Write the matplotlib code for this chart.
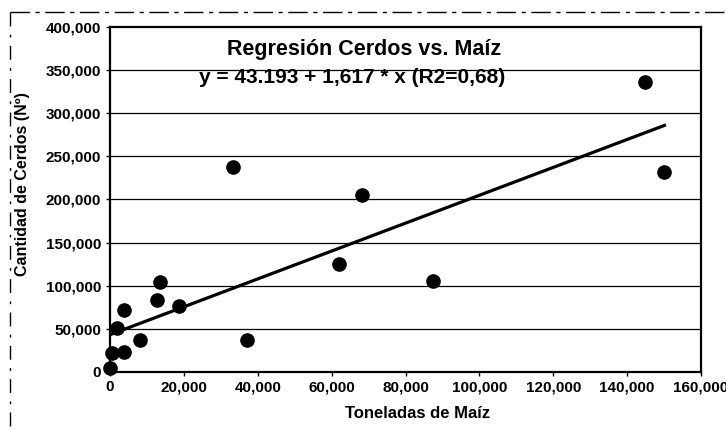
#!/usr/bin/env python

#plotting cerdos vs maiz regression (scanned excel chart)
import numpy as np
import matplotlib
matplotlib.use("Agg")
import matplotlib.pyplot as plt
from matplotlib.lines import Line2D
from matplotlib.ticker import FuncFormatter

#data
maiz_ton = [0, 600, 3800, 1800, 3800, 8100, 12600, 13500, 18700, 37200,
            61900, 33400, 68100, 87400, 144700, 150100]
cerdos = [5000, 21500, 22600, 51000, 72400, 37600, 83600, 103800, 76200, 37600,
          125600, 237100, 205400, 105700, 336400, 232200]

#regression coefficients from the chart
intercept = 43193
slope = 1.617
x_fit = [0, 150100]

x_ticks = [0, 20000, 40000, 60000, 80000, 100000, 120000, 140000, 160000]
y_ticks = [0, 50000, 100000, 150000, 200000, 250000, 300000, 350000, 400000]

plt.rcParams['font.family'] = ['Liberation Sans', 'DejaVu Sans']
plt.rcParams['font.weight'] = 'bold'

fig = plt.figure(figsize=(7.26, 4.29), dpi=100)
ax = fig.add_axes([0.1515, 0.133, 0.8141, 0.804])

#gridlines
for yv in y_ticks[1:-1]:
    ax.axhline(yv, color="black", lw=0.9, zorder=1)

#points
ax.plot(maiz_ton, cerdos, 'o', color="black", markersize=9.5, clip_on=False, zorder=3)

#regression line
y_fit = [intercept + slope * xv for xv in x_fit]
ax.plot(x_fit, y_fit, '-', color="black", lw=2.3, zorder=2)

ax.set_xlim(0, 160000)
ax.set_ylim(0, 400000)
ax.set_xticks(x_ticks)
ax.set_yticks(y_ticks)
fmt = FuncFormatter(lambda v, p: f"{int(v):,}")
ax.xaxis.set_major_formatter(fmt)
ax.yaxis.set_major_formatter(fmt)
ax.tick_params(axis='both', labelsize=11, direction='out', length=3, width=1, colors='black')
ax.tick_params(axis='x', pad=3)
for sp in ax.spines.values():
    sp.set_linewidth(1.6)
    sp.set_color("black")

#labels
ax.set_xlabel("Toneladas de Maíz", fontsize=12, fontweight='bold')
ax.xaxis.set_label_coords(0.52, -0.1)
ax.set_ylabel("Cantidad de Cerdos (Nº)", fontsize=11.5, fontweight='bold')
ax.yaxis.set_label_coords(-0.136, 0.546)

#title and equation inside the plot
ax.text(0.43, 0.935, "Regresión Cerdos vs. Maíz", transform=ax.transAxes,
        ha='center', va='center', fontsize=15.5, fontweight='bold')
ax.text(0.41, 0.855, "y = 43.193 + 1,617 * x (R2=0,68)", transform=ax.transAxes,
        ha='center', va='center', fontsize=15, fontweight='bold')

#broken chart-area border from the scan
fig.add_artist(Line2D([0.0138, 1.0], [0.972, 0.972], color="black", lw=1,
                      linestyle=(0, (14, 4, 3, 4))))
fig.add_artist(Line2D([0.0138, 0.0138], [0.972, 0.0], color="black", lw=1,
                      linestyle=(0, (10, 6, 2, 6))))

fig.savefig("out.png", dpi=100)
